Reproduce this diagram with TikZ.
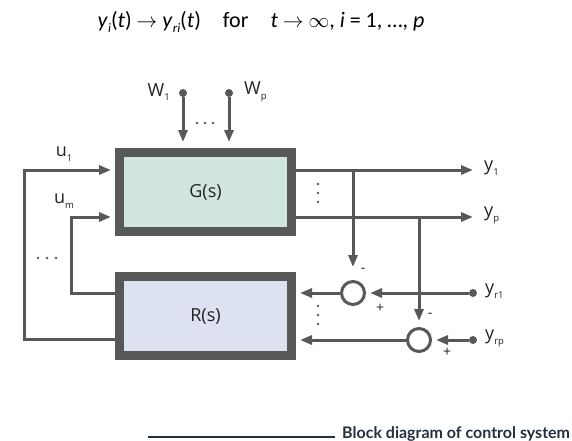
\documentclass[tikz,border=0pt]{standalone}
\usepackage{fontspec}
\setmainfont{Open Sans}
\newfontfamily\formulafont{Carlito}
\newfontfamily\captionfont{Lato}
\usepackage{tikz}
\usetikzlibrary{shapes,arrows.meta,positioning}
\usepackage{xcolor}
\definecolor{linegray}{HTML}{585858}
\definecolor{gfill}{HTML}{D0E5DF}
\definecolor{rfill}{HTML}{DDE2F0}
\definecolor{txtgray}{HTML}{222222}
\definecolor{capnavy}{HTML}{243040}
\newcommand{\lsub}[2][9.5]{\raisebox{-0.5ex}{\fontsize{#1}{#1}\selectfont #2}}

\begin{document}
\begin{tikzpicture}[x=1pt,y=-1pt]
\tikzstyle{block}=[rectangle, draw=linegray, line width=9pt, minimum width=172pt, minimum height=79pt, inner sep=0pt, font=\fontsize{18}{18}\selectfont, text=txtgray]
\tikzstyle{sum}=[circle, draw=linegray, line width=3pt, minimum size=23pt, inner sep=0pt]
\tikzstyle{sig}=[draw=linegray, line width=3pt]
\tikzstyle{arr}=[sig, -{Triangle[length=12pt,width=9pt]}, shorten >=4pt]
\tikzstyle{lab}=[font=\fontsize{18}{18}\selectfont, text=txtgray, inner sep=0pt]
\tikzstyle{sign}=[font=\fontsize{14}{14}\selectfont, text=txtgray, inner sep=0pt]
\tikzstyle{src}=[circle, fill=linegray, minimum size=8pt, inner sep=0pt]

\useasboundingbox (0,0) rectangle (572,440);

% goal
\node[font=\formulafont\fontsize{22}{22}\selectfont] (goal) at (261,22)
  {\textit{y}\lsub[13]{\textit{i}}(\textit{t}) $\rightarrow$ \textit{y}\lsub[13]{\textit{ri}}(\textit{t})\quad for\quad \textit{t} $\rightarrow$ $\infty$, \textit{i} = 1, \dots, \textit{p}};

% blocks and summing points
\node[block, fill=gfill] (G) at (205.5,192) {G(s)};
\node[block, fill=rfill] (R) at (205.5,316) {R(s)};
\node[sum] (s1) at (353,293) {};
\node[sum] (s2) at (419,340) {};

\node[src] (w1) at (183,93) {};
\node[src] (wp) at (229,93) {};
\node[src] (yr1) at (473,293) {};
\node[src] (yrp) at (473,340) {};

% labels
\node[lab, anchor=east] (w1lab) at (170,92) {W\lsub{1}};
\node[lab, anchor=west] (wplab) at (244,92) {W\lsub{p}};
\node[lab] (u1lab) at (64,154) {u\lsub{1}};
\node[lab] (umlab) at (64,201) {u\lsub{m}};
\node[lab, anchor=west] (y1lab) at (484,168) {y\lsub{1}};
\node[lab, anchor=west] (yplab) at (484,215) {y\lsub{p}};
\node[lab, anchor=west] (yr1lab) at (485,291) {y\lsub{r1}};
\node[lab, anchor=west] (yrplab) at (485,338) {y\lsub{rp}};

\node[sign] (m1) at (363,270) {-};
\node[sign] (p1) at (380,308) {+};
\node[sign] (m2) at (430,315) {-};
\node[sign] (p2) at (447,352) {+};

\coordinate (y1end) at (477,170);
\coordinate (ypend) at (477,217);
\coordinate (b1) at (s1 |- y1end);
\coordinate (b2) at (s2 |- ypend);
\coordinate (fb1) at (24,339);
\coordinate (fb2) at (71,293);

% signals
\draw[arr, shorten >=6pt] (w1) -- (w1 |- G.north);
\draw[arr, shorten >=6pt] (wp) -- (wp |- G.north);
\draw[arr] (G.east |- y1end) -- (y1end);
\draw[arr] (G.east |- ypend) -- (ypend);
\draw[arr, shorten >=13pt] (b1) -- (s1);
\draw[arr, shorten >=6pt] (b2) -- (s2);
\draw[arr] (yr1) -- (s1);
\draw[arr] (yrp) -- (s2);
\draw[arr] (s1) -- (s1 -| R.east);
\draw[arr] (s2) -- (s2 -| R.east);
\draw[arr] (R.west |- fb1) -- (fb1) |- (G.west |- y1end);
\draw[arr] (R.west |- fb2) -- (fb2) |- (G.west |- ypend);

% dots
\foreach \dx in {-8,0,8} \fill[linegray] (205+\dx,123) circle (1.3pt);
\foreach \dx in {-9,0,9} \fill[linegray] (47+\dx,258) circle (1.3pt);
\foreach \dy in {-9,0,9} \fill[linegray] (318,193+\dy) circle (1.3pt);
\foreach \dy in {-9,0,9} \fill[linegray] (318,315+\dy) circle (1.3pt);

% caption
\node[font=\captionfont\bfseries\fontsize{16}{16}\selectfont, text=capnavy, anchor=base west, inner sep=0pt] (cap) at (342,438) {Block diagram of control system};
\draw[capnavy, line width=2pt] ([shift={(-7,-1)}]cap.base west) -- ++(-187,0);
\end{tikzpicture}
\end{document}
